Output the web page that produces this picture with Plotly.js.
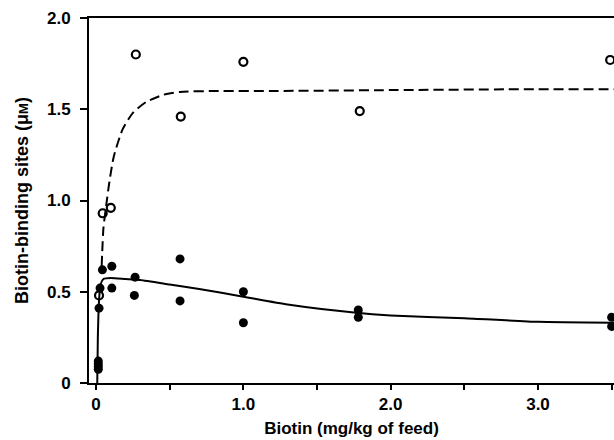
<!DOCTYPE html>
<html>
<head>
<meta charset="utf-8">
<script src="https://cdn.plot.ly/plotly-3.0.1.min.js"></script>
<style>html,body{margin:0;padding:0;background:#fff;}#chart{width:614px;height:440px;}</style>
</head>
<body>
<div id="chart"></div>
<script>
// Open circles (upper series)
const openX = [0.02, 0.045, 0.10, 0.27, 0.575, 1.0, 1.79, 3.49];
const openY = [0.48, 0.93, 0.96, 1.80, 1.46, 1.76, 1.49, 1.77];

// Filled circles (lower series)
const filledX = [0.015, 0.015, 0.015, 0.015, 0.02, 0.027, 0.043, 0.107, 0.107, 0.265, 0.26, 0.57, 0.57, 1.0, 1.0, 1.78, 1.78, 3.5, 3.5];
const filledY = [0.12, 0.105, 0.09, 0.075, 0.41, 0.52, 0.62, 0.64, 0.52, 0.58, 0.48, 0.68, 0.45, 0.50, 0.33, 0.40, 0.36, 0.36, 0.31];

// Dashed fitted curve
const dashX = [0.038, 0.05, 0.07, 0.09, 0.12, 0.18, 0.25, 0.34, 0.46, 0.57, 0.8, 1.2, 2.0, 3.0, 3.52];
const dashY = [0.64, 0.85, 0.98, 1.10, 1.24, 1.39, 1.48, 1.54, 1.58, 1.595, 1.60, 1.60, 1.605, 1.61, 1.61];

// Solid fitted curve
const solidX = [0.008, 0.012, 0.02, 0.03, 0.05, 0.1, 0.2, 0.3, 0.5, 0.7, 1.0, 1.3, 1.75, 2.0, 2.5, 3.0, 3.52];
const solidY = [0.0, 0.25, 0.45, 0.54, 0.57, 0.575, 0.57, 0.565, 0.54, 0.515, 0.473, 0.43, 0.386, 0.37, 0.355, 0.335, 0.33];

// Tick labels
const xTickVals = [0, 0.5, 1.0, 1.5, 2.0, 2.5, 3.0, 3.5];
const xTickText = ["0", "", "1.0", "", "2.0", "", "3.0", ""];
const yTickVals = [0, 0.5, 1.0, 1.5, 2.0];
const yTickText = ["0", "0.5", "1.0", "1.5", "2.0"];

const font = {family: "Liberation Sans, Arial, Helvetica, sans-serif", color: "#000", weight: "bold"};

const traces = [
  {x: dashX, y: dashY, mode: "lines", line: {color: "#000", width: 2, dash: "10px,5px", shape: "spline", smoothing: 0.6}, hoverinfo: "skip"},
  {x: solidX, y: solidY, mode: "lines", line: {color: "#000", width: 2, shape: "spline", smoothing: 0.5}, hoverinfo: "skip"},
  {x: filledX, y: filledY, mode: "markers", marker: {symbol: "circle", size: 9, color: "#000"}, cliponaxis: false},
  {x: openX, y: openY, mode: "markers", marker: {symbol: "circle-open", size: 8, color: "#000", line: {width: 2.2, color: "#000"}}, cliponaxis: false}
];

const layout = {
  width: 614, height: 440,
  margin: {l: 89, r: 0, t: 18, b: 57, pad: 0},
  paper_bgcolor: "#fff", plot_bgcolor: "#fff",
  showlegend: false,
  font: Object.assign({size: 17}, font),
  xaxis: {
    range: [-0.048, 3.516], tickvals: xTickVals, ticktext: xTickText,
    ticks: "outside", ticklen: 5, tickwidth: 2, tickcolor: "#000",
    showline: true, linewidth: 2, linecolor: "#000", mirror: true,
    showgrid: false, zeroline: false,
    tickfont: Object.assign({size: 17}, font),
    title: {text: "Biotin (mg/kg of feed)", font: Object.assign({size: 17}, font), standoff: 9}
  },
  yaxis: {
    range: [0, 2.0], tickvals: yTickVals, ticktext: yTickText,
    ticks: "outside", ticklen: 7, tickwidth: 2, tickcolor: "#000",
    showline: true, linewidth: 2, linecolor: "#000",
    showgrid: false, zeroline: false,
    tickfont: Object.assign({size: 17}, font),
    ticklabelstandoff: 6,
    title: {text: "Biotin-binding sites (μ<span style=\"font-size:13px\">M</span>)", font: Object.assign({size: 18}, font), standoff: 14}
  }
};

Plotly.newPlot("chart", traces, layout, {staticPlot: true, displayModeBar: false});
</script>
</body>
</html>
